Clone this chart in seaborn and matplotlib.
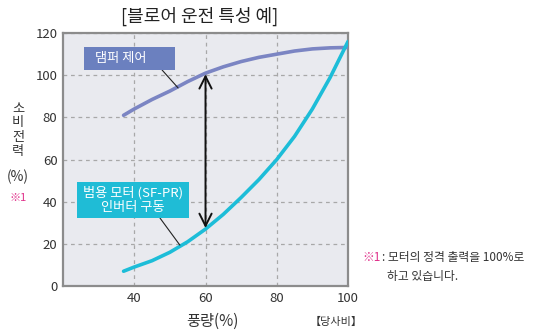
import pandas as pd
import seaborn as sns
import matplotlib.pyplot as plt
from matplotlib.patches import Rectangle

# values
flow = [37, 40, 45, 50, 55, 60, 65, 70, 75, 80, 85, 90, 95, 100]
damper = [81, 84, 88.5, 92.5, 97, 101, 104, 106.5, 108.5, 110, 111.5, 112.5, 113, 113.2]
inverter = [7, 9, 12, 16, 21, 27, 34, 42, 50.5, 60, 71, 84, 99, 116]
x_ticks = [40, 60, 80, 100]
y_ticks = [0, 20, 40, 60, 80, 100, 120]

sns.set_theme(style='white')
plt.rcParams['font.family'] = ['Noto Sans CJK KR', 'DejaVu Sans']

df = pd.DataFrame({'flow': flow + flow,
                   'power': damper + inverter,
                   'kind': ['damper'] * len(flow) + ['inverter'] * len(flow)})

fig = plt.figure(figsize=(5.47, 3.31), dpi=100)
ax = fig.add_axes([0.1152, 0.136, 0.521, 0.764])
ax.set_facecolor('#e9eaef')

sns.lineplot(data=df, x='flow', y='power', hue='kind',
             palette={'damper': '#7b85c3', 'inverter': '#1dbdd8'},
             linewidth=2.6, legend=False, ax=ax, zorder=3)
for ln in ax.lines:
    ln.set_solid_joinstyle('round')

ax.set_xlim(20, 100)
ax.set_ylim(0, 120)
ax.set_xticks(x_ticks)
ax.set_yticks(y_ticks)
ax.tick_params(length=0, labelsize=9.5, labelcolor='#333333', pad=4)
ax.grid(True, color='#a8a8a8', linestyle=(0, (3, 3)), linewidth=0.9)
for s in ax.spines.values():
    s.set_color('#8c8c8c')
    s.set_linewidth(1.6)
ax.set_xlabel('')
ax.set_ylabel('')

# double arrow between the curves at 60%
ax.annotate('', xy=(60, 100.5), xytext=(60, 27.5),
            arrowprops=dict(arrowstyle='<->', color='#111111', lw=1.4,
                            mutation_scale=22, shrinkA=0, shrinkB=0), zorder=4)

# label boxes with leader lines
ax.plot([47.8, 52.3], [102.5, 94], color='#222222', lw=0.8, zorder=4)
ax.add_patch(Rectangle((25.9, 102.5), 25.5, 10.9, fc='#6b80bf', ec='none', zorder=5))
ax.text(36.2, 108.0, '댐퍼 제어', color='white', fontsize=9.5, ha='center', va='center', zorder=6)

ax.plot([47.2, 52.8], [32.3, 19.4], color='#222222', lw=0.8, zorder=4)
ax.add_patch(Rectangle((23.9, 32.3), 31.5, 17.0, fc='#1fbcd6', ec='none', zorder=5))
ax.text(39.6, 40.8, '범용 모터 (SF-PR)\n인버터 구동', color='white', fontsize=9.5,
        ha='center', va='center', linespacing=1.1, zorder=6)

# titles and side texts
fig.text(0.365, 0.952, '[블로어 운전 특성 예]', fontsize=13, ha='center', va='center', color='#222222')
for ch, yy in zip('소비전력', [0.6707, 0.6284, 0.5861, 0.5438]):
    fig.text(0.033, yy, ch, fontsize=9.5, ha='center', va='center', color='#333333')
fig.text(0.033, 0.4653, '(%)', fontsize=10, ha='center', va='center', color='#333333')
fig.text(0.033, 0.402, '※1', fontsize=8, ha='center', va='center', color='#e0308a')
fig.text(0.388, 0.028, '풍량(%)', fontsize=11, ha='center', va='center', color='#333333')
fig.text(0.614, 0.028, '【당사비】', fontsize=8, ha='center', va='center', color='#333333')
fig.text(0.662, 0.221, '※1', fontsize=8.5, ha='left', va='center', color='#e0308a')
fig.text(0.698, 0.221, ': 모터의 정격 출력을 100%로', fontsize=8.5, ha='left', va='center', color='#333333')
fig.text(0.708, 0.166, '하고 있습니다.', fontsize=8.5, ha='left', va='center', color='#333333')

fig.savefig('out.png', dpi=100)
